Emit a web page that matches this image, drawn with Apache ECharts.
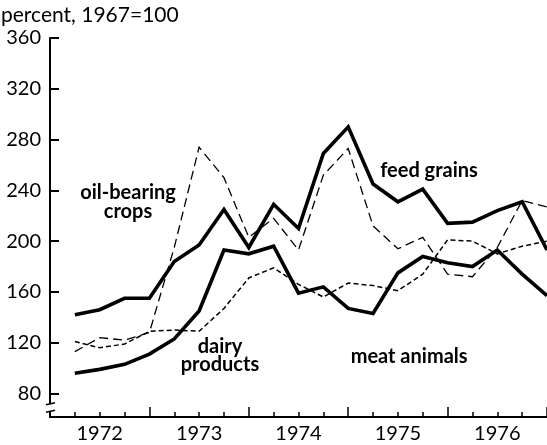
<!DOCTYPE html>
<html>
<head>
<meta charset="utf-8">
<script src="https://cdn.jsdelivr.net/npm/echarts@6/dist/echarts.min.js"></script>
<style>
html,body{margin:0;padding:0;background:#fff;}
#c{width:547px;height:445px;}
</style>
</head>
<body>
<div id="c"></div>
<script>
// Quarterly index values, 1972 Q1 .. 1976 Q4 (percent, 1967=100)
const quarters = ['1972Q1','1972Q2','1972Q3','1972Q4','1973Q1','1973Q2','1973Q3','1973Q4',
  '1974Q1','1974Q2','1974Q3','1974Q4','1975Q1','1975Q2','1975Q3','1975Q4',
  '1976Q1','1976Q2','1976Q3','1976Q4'];
const feedGrains  = [142,146,155,155,184,197,225,195,229,210,269,290,245,231,241,214,215,224,231,193];
const meatAnimals = [96,99,103,111,123,145,193,190,196,159,164,147,143,175,188,183,180,193,174,157];
const oilCrops    = [113,124,122,128,195,274,250,203,218,193,252,273,212,194,203,174,172,195,232,227];
const dairy       = [121,116,119,129,130,129,147,171,179,166,156,167,165,161,174,201,200,190,196,200];
const yTicks = [80,120,160,200,240,280,320,360];
const yearLabels = ['1972','1973','1974','1975','1976'];

const FONT = 'Lato';
const toXY = arr => arr.map((v,i)=>[i+1, v]);

const chart = echarts.init(document.getElementById('c'), null, {renderer:'canvas'});

function lineSeries(name, data, width, dash){
  return {
    name, type:'line', data: toXY(data), symbol:'none', smooth:false,
    lineStyle:{color:'#000', width, type: dash || 'solid', cap:'butt', join:'miter'},
    z: dash ? 2 : 3, animation:false
  };
}

chart.setOption({
  animation:false,
  backgroundColor:'#fff',
  grid:{left:50, right:0, top:38, bottom:28},
  xAxis:{
    type:'value', min:0, max:20, interval:4,
    axisLine:{show:true, lineStyle:{color:'#000', width:2}},
    axisTick:{show:true, inside:true, length:10, lineStyle:{color:'#000', width:1.5}},
    minorTick:{show:true, splitNumber:4, length:5, lineStyle:{color:'#000', width:1.5}},
    axisLabel:{
      customValues:[2,6,10,14,18],
      formatter: v => yearLabels[(v-2)/4],
      color:'#000', fontFamily:FONT, fontSize:20, margin:7
    },
    splitLine:{show:false}
  },
  yAxis:{
    type:'value', min:61.5, max:360,
    axisLine:{show:true, lineStyle:{color:'#000', width:2}},
    axisTick:{show:true, inside:true, length:9, customValues:yTicks, lineStyle:{color:'#000', width:2}},
    axisLabel:{customValues:yTicks, color:'#000', fontFamily:FONT, fontSize:20, margin:9},
    splitLine:{show:false}
  },
  series:[
    lineSeries('oil-bearing crops', oilCrops, 1.3, [9,5]),
    lineSeries('dairy products', dairy, 1.5, [5,3]),
    lineSeries('feed grains', feedGrains, 3.6),
    lineSeries('meat animals', meatAnimals, 3.6)
  ]
});

// annotations anchored in data coordinates
const notes = [
  {text:'oil-bearing', at:[3.14, 238]},
  {text:'crops', at:[3.14, 223]},
  {text:'feed grains', at:[15.25, 256]},
  {text:'meat animals', at:[14.45, 109.5]},
  {text:'dairy', at:[6.84, 116.6]},
  {text:'products', at:[6.84, 103]}
];
const g = notes.map(n => {
  const p = chart.convertToPixel({gridIndex:0}, n.at);
  return {type:'text', x:p[0], y:p[1], z:10,
    style:{text:n.text, font:'bold 20px '+FONT, fill:'#000', align:'center', verticalAlign:'middle'}};
});
g.push({type:'text', left:1, top:5, z:10,
  style:{text:'percent, 1967=100', font:'21px '+FONT, fill:'#000'}});
// axis break marks
const b1 = chart.convertToPixel({gridIndex:0}, [0, 72]);
const b2 = chart.convertToPixel({gridIndex:0}, [0, 66]);
g.push({type:'rect', shape:{x:b1[0]-4, y:b1[1], width:8, height:b2[1]-b1[1]}, style:{fill:'#fff'}, z:20});
g.push({type:'line', shape:{x1:b1[0]-4, y1:b1[1]+1, x2:b1[0]+5, y2:b1[1]-1}, style:{stroke:'#000', lineWidth:1.5}, z:21});
g.push({type:'line', shape:{x1:b2[0]-4, y1:b2[1]+1, x2:b2[0]+5, y2:b2[1]-1}, style:{stroke:'#000', lineWidth:1.5}, z:21});
chart.setOption({graphic:g});
</script>
</body>
</html>
